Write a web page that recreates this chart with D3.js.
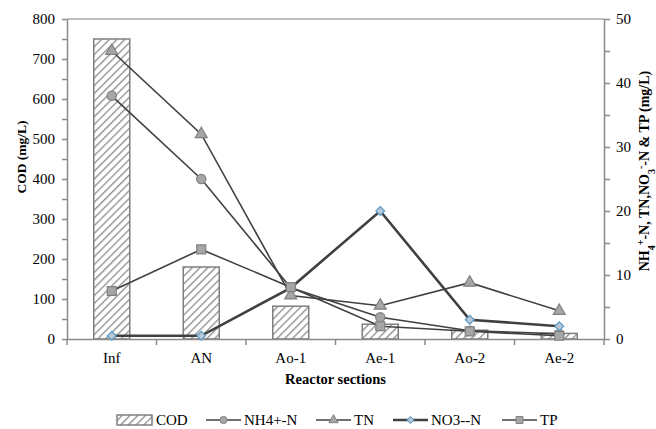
<!DOCTYPE html>
<html>
<head>
<meta charset="utf-8">
<script src="https://cdn.jsdelivr.net/npm/d3@7"></script>
<style>
body { margin: 0; background: #fff; }
svg { font-family: "Liberation Serif", "Times New Roman", serif; }
</style>
</head>
<body>
<div id="chart"></div>
<script>
// reactor sections and measured values
var sections = ["Inf", "AN", "Ao-1", "Ae-1", "Ao-2", "Ae-2"];
var cod = [750, 180, 82, 37, 22, 14];
var nh4 = [38, 25, 8, 3.4, 1.3, 0.8];
var tn = [45, 32, 6.8, 5.2, 8.8, 4.4];
var no3 = [0.5, 0.5, 8, 20, 3, 2];
var tp = [7.5, 14, 8.1, 2, 1.2, 0.5];
var codTicks = [0, 100, 200, 300, 400, 500, 600, 700, 800];
var rightTicks = [0, 10, 20, 30, 40, 50];

var W = 656, H = 429;
var m = {left: 67, right: 52, top: 19, bottom: 90};
var svg = d3.select("#chart").append("svg").attr("width", W).attr("height", H);

var x = d3.scaleBand().domain(sections).range([m.left, W - m.right]);
var yL = d3.scaleLinear().domain([0, 800]).range([H - m.bottom, m.top]);
var yR = d3.scaleLinear().domain([0, 50]).range([H - m.bottom, m.top]);
var axisCol = "#8a8a8a";

// hatch pattern for bars
var defs = svg.append("defs");
var pat = defs.append("pattern").attr("id", "hatch").attr("patternUnits", "userSpaceOnUse")
    .attr("width", 5.5).attr("height", 5.5).attr("patternTransform", "rotate(45)");
pat.append("rect").attr("width", 5.5).attr("height", 5.5).attr("fill", "#fff");
pat.append("line").attr("x1", 0).attr("y1", 0).attr("x2", 0).attr("y2", 5.5)
    .attr("stroke", "#8c8c8c").attr("stroke-width", 2.6);

// top frame line
svg.append("line").attr("x1", m.left).attr("x2", W - m.right)
    .attr("y1", m.top).attr("y2", m.top).attr("stroke", "#a8a8a8").attr("stroke-width", 1.5);

// bars
var bw = 36;
svg.selectAll("rect.bar").data(cod).enter().append("rect").attr("class", "bar")
    .attr("x", function(d, i) { return x(sections[i]) + x.bandwidth() / 2 - bw / 2; })
    .attr("y", function(d) { return yL(d); })
    .attr("width", bw)
    .attr("height", function(d) { return yL(0) - yL(d); })
    .attr("fill", "url(#hatch)").attr("stroke", "#7f7f7f").attr("stroke-width", 1.5);

// axes
function styleAxis(g) {
    g.selectAll("path, line").attr("stroke", axisCol).attr("stroke-width", 1.5);
    g.selectAll("text").attr("fill", "#000").style("font-size", "15px")
        .style("font-family", "Liberation Serif, Times New Roman, serif");
}
var gL = svg.append("g").attr("transform", "translate(" + m.left + ",0)")
    .call(d3.axisLeft(yL).tickValues(codTicks).tickSize(5).tickSizeOuter(0).tickPadding(7));
var gLm = svg.append("g").attr("transform", "translate(" + m.left + ",0)")
    .call(d3.axisLeft(yL).tickValues(d3.range(50, 800, 100)).tickSize(5).tickFormat(""));
gLm.select("path").remove();
var gR = svg.append("g").attr("transform", "translate(" + (W - m.right) + ",0)")
    .call(d3.axisRight(yR).tickValues(rightTicks).tickSize(6).tickSizeOuter(0).tickPadding(6));
var gRm = svg.append("g").attr("transform", "translate(" + (W - m.right) + ",0)")
    .call(d3.axisRight(yR).tickValues(d3.range(5, 50, 10)).tickSize(6).tickFormat(""));
gRm.select("path").remove();
var gX = svg.append("g").attr("transform", "translate(0," + (H - m.bottom) + ")")
    .call(d3.axisBottom(x).tickSize(0).tickPadding(13));
// category separators as ticks
gX.selectAll("line.sep").data(d3.range(sections.length + 1)).enter().append("line").attr("class", "sep")
    .attr("x1", function(i) { return m.left + i * x.step(); })
    .attr("x2", function(i) { return m.left + i * x.step(); })
    .attr("y1", 0).attr("y2", 6);
[gL, gLm, gR, gRm, gX].forEach(styleAxis);

// line series
var series = [
    {name: "NH4+-N", vals: nh4, shape: d3.symbolCircle, size: 68, rot: 0, fill: "#a6a6a6", stroke: "#808080", lw: 1.6},
    {name: "TN", vals: tn, shape: d3.symbolTriangle, size: 62, rot: 0, fill: "#a6a6a6", stroke: "#808080", lw: 1.6},
    {name: "NO3--N", vals: no3, shape: d3.symbolSquare, size: 38, rot: 45, fill: "#b9c8d4", stroke: "#5a9ac8", lw: 2.6},
    {name: "TP", vals: tp, shape: d3.symbolSquare, size: 80, rot: 0, fill: "#a6a6a6", stroke: "#808080", lw: 1.6}
];
var line = d3.line()
    .x(function(d, i) { return x(sections[i]) + x.bandwidth() / 2; })
    .y(function(d) { return yR(d); });
series.forEach(function(s) {
    svg.append("path").datum(s.vals).attr("d", line)
        .attr("fill", "none").attr("stroke", "#404040").attr("stroke-width", s.lw);
});
series.forEach(function(s) {
    svg.selectAll(null).data(s.vals).enter().append("path")
        .attr("d", d3.symbol().type(s.shape).size(s.size))
        .attr("transform", function(d, i) {
            return "translate(" + (x(sections[i]) + x.bandwidth() / 2) + "," + yR(d) + ") rotate(" + s.rot + ")";
        })
        .attr("fill", s.fill).attr("stroke", s.stroke).attr("stroke-width", 1.2);
});

// axis titles
svg.append("text").attr("transform", "translate(26,157) rotate(-90)")
    .attr("text-anchor", "middle").style("font-size", "13.5px").style("font-weight", "bold")
    .text("COD  (mg/L)");
var rt = svg.append("text").attr("transform", "translate(649,171) rotate(-90)")
    .attr("text-anchor", "middle").style("font-size", "14px").style("font-weight", "bold");
rt.append("tspan").text("NH");
rt.append("tspan").text("4").attr("baseline-shift", "sub").style("font-size", "10px");
rt.append("tspan").text("+").attr("baseline-shift", "super").style("font-size", "10px");
rt.append("tspan").text("-N, TN,NO");
rt.append("tspan").text("3").attr("baseline-shift", "sub").style("font-size", "10px");
rt.append("tspan").text("-").attr("baseline-shift", "super").style("font-size", "10px");
rt.append("tspan").text("-N & TP (mg/L)");
svg.append("text").attr("x", (m.left + W - m.right) / 2).attr("y", 384)
    .attr("text-anchor", "middle").style("font-size", "14.5px").style("font-weight", "bold")
    .text("Reactor sections");

// legend
var ly = 420;
var lg = svg.append("g");
lg.append("rect").attr("x", 117).attr("y", ly - 5).attr("width", 35).attr("height", 10)
    .attr("fill", "url(#hatch)").attr("stroke", "#7f7f7f").attr("stroke-width", 1.5);
lg.append("text").attr("x", 156).attr("y", ly + 5).style("font-size", "15px").text("COD");
var lx = [206, 316, 393, 502];
series.forEach(function(s, k) {
    lg.append("line").attr("x1", lx[k]).attr("x2", lx[k] + 35).attr("y1", ly).attr("y2", ly)
        .attr("stroke", "#404040").attr("stroke-width", s.lw);
    lg.append("path").attr("d", d3.symbol().type(s.shape).size(s.size * 0.6))
        .attr("transform", "translate(" + (lx[k] + 17.5) + "," + ly + ") rotate(" + s.rot + ")")
        .attr("fill", s.fill).attr("stroke", s.stroke).attr("stroke-width", 1);
    lg.append("text").attr("x", lx[k] + 38).attr("y", ly + 5).style("font-size", "15px").text(s.name);
});
</script>
</body>
</html>
